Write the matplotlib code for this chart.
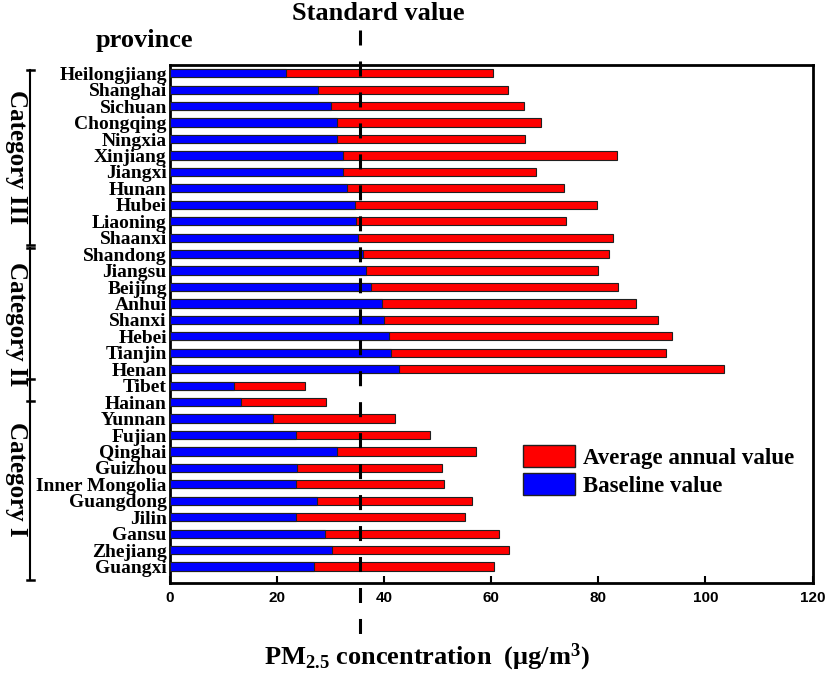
import matplotlib
matplotlib.use("Agg")
import matplotlib.pyplot as plt
import matplotlib.transforms as mtransforms
from matplotlib.patches import Patch

plt.rcParams['lines.scale_dashes'] = False
plt.rcParams['mathtext.fontset'] = 'custom'
plt.rcParams['mathtext.bf'] = 'Liberation Serif:bold'
plt.rcParams['mathtext.rm'] = 'Liberation Serif:bold'
plt.rcParams['mathtext.default'] = 'bf'

# ---- data (top to bottom as in the chart) ----
provinces = ["Heilongjiang", "Shanghai", "Sichuan", "Chongqing", "Ningxia", "Xinjiang",
             "Jiangxi", "Hunan", "Hubei", "Liaoning", "Shaanxi",
             "Shandong", "Jiangsu", "Beijing", "Anhui", "Shanxi", "Hebei", "Tianjin", "Henan",
             "Tibet", "Hainan", "Yunnan", "Fujian", "Qinghai", "Guizhou", "Inner Mongolia",
             "Guangdong", "Jilin", "Gansu", "Zhejiang", "Guangxi"]
baseline = [21.8, 27.7, 30.2, 31.3, 31.2, 32.3, 32.4, 33.2, 34.6, 34.7, 35.1,
            36.1, 36.6, 37.6, 39.6, 40.0, 40.9, 41.4, 42.9,
            12.0, 13.3, 19.3, 23.6, 31.2, 23.7, 23.5, 27.6, 23.5, 29.0, 30.4, 26.9]
annual = [60.4, 63.1, 66.2, 69.4, 66.4, 83.5, 68.4, 73.6, 79.8, 74.0, 82.8,
          82.0, 80.0, 83.6, 87.1, 91.1, 93.7, 92.7, 103.4,
          25.3, 29.1, 42.1, 48.6, 57.2, 50.8, 51.3, 56.5, 55.1, 61.5, 63.4, 60.5]
standard_value = 35.5
x_ticks = [0, 20, 40, 60, 80, 100, 120]
# category name, first row index, last row index (top-to-bottom order)
categories = [("Category III", 0, 10), ("Category II", 11, 19), ("Category I", 19, 30)]

serif = "Liberation Serif"
n = len(provinces)
ypos = [n - 1 - i for i in range(n)]

fig = plt.figure(figsize=(8.29, 6.77), dpi=100)
ax = fig.add_axes([169.6 / 829, 1 - 583 / 677, 643 / 829, 518 / 677])

ax.barh(ypos, annual, height=0.5, color="#FF0000", edgecolor="#202020", linewidth=0.8, zorder=2)
ax.barh(ypos, baseline, height=0.5, color="#0000FF", edgecolor="#202020", linewidth=0.8, zorder=3)

ax.set_xlim(0, 120)
ax.set_ylim(-1.0, n - 0.5)
ax.set_xticks(x_ticks)
ax.set_xticklabels([str(t) for t in x_ticks], fontfamily="Liberation Sans", fontweight="bold", fontsize=11)
ax.set_yticks(ypos)
ax.set_yticklabels(provinces, fontfamily=serif, fontweight="bold", fontsize=14)
ax.tick_params(axis="x", direction="in", length=5, width=1.5, pad=5.5)
ax.tick_params(axis="y", length=0, pad=2)
for s in ax.spines.values():
    s.set_linewidth(2.0)

# standard value dashed line (extends beyond axes)
trans = mtransforms.blended_transform_factory(ax.transData, ax.transAxes)
ax.plot([standard_value, standard_value], [1 + 35 / 518, -51 / 518], transform=trans,
        color="black", lw=2.2, linestyle=(0, (10.8, 11.5)), clip_on=False, zorder=5)

fig.text(378 / 829, 1 - 14 / 677, "Standard value", fontfamily=serif, fontweight="bold",
         fontsize=19, ha="center", va="center")
fig.text(144 / 829, 1 - 40 / 677, "province", fontfamily=serif, fontweight="bold",
         fontsize=19, ha="center", va="center")
fig.text(427 / 829, 1 - 657 / 677, r"PM$_{2.5}$ concentration  (μg/m$^{3}$)",
         fontfamily=serif, fontweight="bold", fontsize=19, ha="center", va="center")

# category brackets
ytr = ax.get_yaxis_transform()
bracket_ext = {"Category III": (0.2, -0.43), "Category II": (0.39, -0.95), "Category I": (0.43, -0.81)}
lx = (30.5 - 169.6) / 643
cap = 3.5 / 643
for name, i0, i1 in categories:
    top = ypos[i0] + bracket_ext[name][0]
    bot = ypos[i1] + bracket_ext[name][1]
    ax.plot([lx, lx], [bot, top], transform=ytr, color="black", lw=1.5, clip_on=False)
    ax.plot([lx - cap, lx + cap], [top, top], transform=ytr, color="black", lw=1.8, clip_on=False)
    ax.plot([lx - cap, lx + cap], [bot, bot], transform=ytr, color="black", lw=1.8, clip_on=False)
    ax.text((17 - 169.6) / 643, (top + bot) / 2, name, transform=ytr, rotation=270,
            fontfamily=serif, fontweight="bold", fontsize=18, ha="center", va="center")

handles = [Patch(facecolor="#FF0000", edgecolor="#202020", linewidth=1.0),
           Patch(facecolor="#0000FF", edgecolor="#202020", linewidth=1.0)]
fig.legend(handles, ["Average annual value", "Baseline value"], loc="upper left",
           bbox_to_anchor=(523 / 829, 1 - 445 / 677), frameon=False, borderpad=0,
           borderaxespad=0, handlelength=2.25, handleheight=1.1, labelspacing=0.2,
           handletextpad=0.35, prop={"family": serif, "weight": "bold", "size": 16.5})

fig.savefig("out.png", dpi=100)
